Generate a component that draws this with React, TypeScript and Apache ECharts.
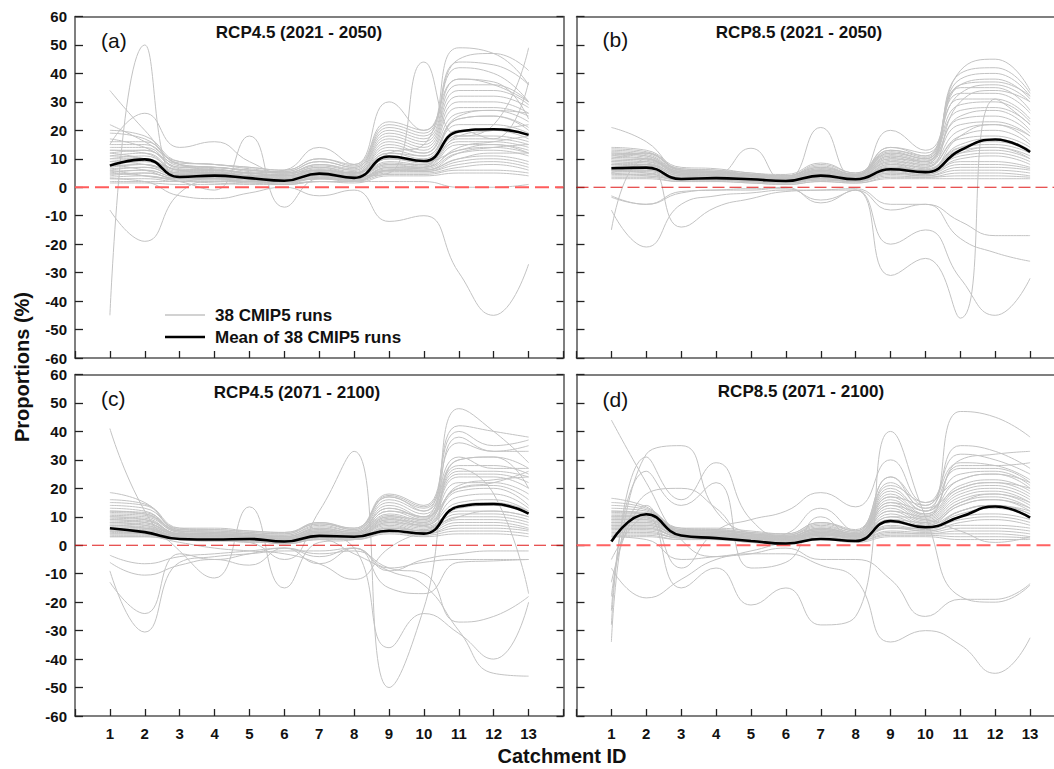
import React, { useEffect, useRef } from "react";
import * as echarts from "echarts";

const CATCHMENTS = [1, 2, 3, 4, 5, 6, 7, 8, 9, 10, 11, 12, 13];
const X_RANGE = [0, 14];
const Y_RANGE = [-60, 60];
const ZERO_LINE = [[0, 0], [14, 0]];

const TITLES = ["RCP4.5 (2021 - 2050)", "RCP8.5 (2021 - 2050)", "RCP4.5 (2071 - 2100)", "RCP8.5 (2071 - 2100)"];
const TAGS = ["(a)", "(b)", "(c)", "(d)"];
const RUN_NAME = "38 CMIP5 runs";
const MEAN_NAME = "Mean of 38 CMIP5 runs";

const MEAN_A = [7.6, 9.8, 3.6, 4.1, 3.2, 2.3, 4.8, 3.3, 10.8, 9.2, 19.6, 20.4, 18.4];
const MEAN_B = [6.7, 6.9, 2.9, 3.2, 2.8, 2.2, 4.1, 2.8, 6.3, 5.3, 13.0, 16.8, 12.4];
const MEAN_C = [6.0, 4.6, 2.2, 2.0, 2.2, 1.3, 3.3, 3.0, 5.1, 4.1, 13.6, 14.5, 11.1];
const MEAN_D = [1.3, 10.9, 3.4, 2.5, 1.5, 0.6, 2.2, 1.5, 8.5, 6.3, 10.0, 13.6, 9.7];

const RUNS_A = [
  [-45, 50, 2, 3, 2, 2, 3, 3, 6, 6, 10, 12, 12],
  [34, 20, 8, 6, 4, 3, 5, 4, 10, 9, 18, 20, 22],
  [-8, -19, -2, 2, 2, 1, 2, 2, 6, 6, 12, 14, 15],
  [15, 26, 14, 16, 9, 5, 6, 5, 12, 11, 25, 27, 26],
  [6, 4, 2, -1, 18, -7, 3, 2, 7, 7, 14, 16, 18],
  [12, 10, 6, 5, 5, 6, 14, 8, 30, 20, 38, 36, 30],
  [8, 6, 3, 3, 3, 3, 4, 4, 5, 44, 18, 22, 49],
  [3, 2, -3, -4, -2, 0, -3, -1, -12, -10, -30, -45, -27],
  [1.5, 1.5, 1, 1, 1.5, 1.5, 2, 2, 2, 2, 0, 0, 1],
  [2, 2, 2, 1.5, 1, 1, 2, 1.5, 4, 4, 5, 5, 4],
  [3, 3, 2, 2, 1.5, 1, 2, 2, 4.5, 4.5, 6, 6, 5],
  [3.5, 4, 2.5, 2.5, 2, 1.5, 3, 2.5, 5, 5, 7, 8, 6],
  [4, 5, 3, 3, 2, 2, 3, 2.5, 5.5, 5.5, 8, 9, 7],
  [4.5, 5, 3, 3, 2.5, 2, 3.5, 3, 6, 5.5, 9, 10, 8],
  [5, 6, 3.5, 3.5, 2.5, 2, 3.5, 3, 6.5, 6, 10, 11, 9],
  [5.5, 6, 3.5, 3.5, 3, 2.5, 4, 3, 7, 6.5, 12, 13, 11],
  [6, 7, 4, 4, 3, 2.5, 4, 3.5, 7.5, 7, 13, 14, 12],
  [6.5, 7, 4, 4, 3, 3, 4.5, 3.5, 8, 7, 15, 15, 13],
  [7, 8, 4.5, 4.5, 3.5, 3, 5, 4, 8.5, 7.5, 16, 16, 14],
  [7.5, 8, 4.5, 4.5, 3.5, 3, 5, 4, 9, 8, 17, 17, 15],
  [8, 9, 5, 5, 4, 3.5, 5.5, 4, 10, 8.5, 18, 18, 16],
  [9, 10, 5, 5, 4, 3.5, 5.5, 4.5, 11, 9, 20, 20, 17],
  [10, 10, 5.5, 5.5, 4, 4, 6, 4.5, 12, 10, 22, 22, 19],
  [10, 11, 6, 6, 4.5, 4, 6, 5, 13, 11, 24, 25, 21],
  [11, 12, 6, 6, 5, 4, 6.5, 5, 14, 12, 26, 27, 23],
  [12, 13, 6.5, 6, 5, 4.5, 7, 5, 15, 12, 28, 28, 25],
  [13, 13, 7, 6.5, 5, 4.5, 7, 5.5, 16, 13, 30, 30, 26],
  [14, 14, 7, 7, 5.5, 5, 7.5, 6, 17, 14, 32, 32, 28],
  [15, 15, 7.5, 7, 6, 5, 8, 6, 18, 15, 34, 34, 29],
  [16, 16, 8, 7, 6, 5, 8, 6.5, 19, 16, 36, 36, 30],
  [17, 14, 8, 7, 6, 5.5, 9, 7, 20, 17, 38, 37, 24],
  [19, 17, 8.5, 8, 6.5, 5.5, 9, 7, 21, 18, 42, 40, 30],
  [20, 18, 9, 8, 7, 6, 10, 7.5, 22, 19, 44, 43, 36],
  [22, 16, 9, 8, 7, 6, 10, 8, 23, 20, 45, 47, 41],
  [11, 10, 6, 5, 4, 4, 6, 5, 12, 15, 49, 47, 36],
  [9, 8, 5, 5, 4, 3, 5, 4, 8, 8, 20, 17, 37],
  [13, 12, 6, 6, 5, 4, 6, 5, 10, 9, 13, 15, 12],
  [5, 4, 3, 3, 2, 2, 3, 2.5, 6, 7, 24, 25, 20],
];

const RUNS_B = [
  [-15, 10, 5, 3, 2.5, 2, 3, 2, 7, 6, 18, 22, 18],
  [-8, -21, -6, -3, -2, -1, -1, -1, -8, -6, -12, -17, -17],
  [-3, -6, -2, -1, -1, 0, -5.5, -1, -20, -15, -32, -45, -32],
  [-3.5, -6, -1.5, -1, -0.5, -0.5, -4.5, -1, -31, -25, -46, 31, 22],
  [5, 8, -14, -7, -4, -1.5, -1, -0.5, -6, -6, -18, -23, -26],
  [5, 4, 3, 4, 13.7, 2, 3, 2, 6, 5, 12, 14, 10],
  [6, 5, 3, 3, 2, 2.5, 21, 3, 7, 6, 14, 16, 13],
  [21, 16, 6, 5, 4, 3, 6, 4, 20, 13, 33, 36, 30],
  [3, 3, 2, 2, 1.5, 1, 2, 1.5, 3, 3, 3, 3, 3],
  [3.5, 3.5, 2, 2, 1.5, 1, 2, 1.5, 3.5, 3.5, 4, 4, 3.5],
  [4, 4, 2.5, 2.5, 2, 1.5, 2.5, 2, 4, 3.5, 5, 5, 4],
  [4.5, 4.5, 2.5, 2.5, 2, 1.5, 2.5, 2, 4.5, 4, 6, 6, 5],
  [5, 5, 3, 3, 2, 1.5, 3, 2, 5, 4, 7, 7, 6],
  [5.5, 5.5, 3, 3, 2.5, 2, 3, 2.5, 5, 4.5, 8, 8, 6.5],
  [6, 6, 3, 3, 2.5, 2, 3.5, 2.5, 5.5, 4.5, 9, 9, 7],
  [6.5, 6.5, 3.5, 3.5, 2.5, 2, 3.5, 2.5, 6, 5, 10, 11, 8],
  [7, 7, 3.5, 3.5, 3, 2, 4, 3, 6.5, 5, 11, 12, 9],
  [7.5, 7.5, 4, 3.5, 3, 2.5, 4, 3, 7, 5.5, 12, 13, 10],
  [8, 8, 4, 4, 3, 2.5, 4.5, 3, 7.5, 6, 13, 14, 11],
  [8.5, 8, 4, 4, 3, 2.5, 4.5, 3, 8, 6, 14, 15, 12],
  [9, 8.5, 4.5, 4, 3.5, 3, 5, 3.5, 8.5, 6.5, 15, 17, 13],
  [9.5, 9, 4.5, 4.5, 3.5, 3, 5, 3.5, 9, 7, 17, 18, 14],
  [10, 9.5, 5, 4.5, 3.5, 3, 5.5, 3.5, 9.5, 7.5, 18, 20, 15],
  [10.5, 10, 5, 5, 4, 3, 5.5, 4, 10, 8, 20, 22, 16],
  [11, 10, 5.5, 5, 4, 3.5, 6, 4, 10.5, 8.5, 22, 23, 18],
  [11.5, 10.5, 5.5, 5, 4, 3.5, 6, 4, 11, 9, 24, 25, 19],
  [12, 11, 6, 5.5, 4.5, 3.5, 6.5, 4.5, 11.5, 9.5, 25, 27, 20],
  [12.5, 11.5, 6, 5.5, 4.5, 4, 7, 4.5, 12, 10, 27, 28, 22],
  [13, 12, 6.5, 6, 4.5, 4, 7.5, 4.5, 12.5, 10, 29, 30, 23],
  [13.5, 12.5, 6.5, 6, 5, 4, 8, 5, 13, 10.5, 31, 31, 24],
  [14, 13, 7, 6.5, 5, 4.5, 8.5, 5, 14, 11, 33, 33, 26],
  [10, 12, 6, 5.5, 4.5, 4, 7, 4.5, 13, 11, 35, 35, 27],
  [8, 9, 5, 5, 4, 3.5, 6, 4, 11, 9, 36, 38, 31],
  [12, 11, 5.5, 5, 4, 3.5, 6, 4, 12, 10, 38, 40, 32],
  [9, 10, 5, 4.5, 3.5, 3, 5.5, 3.5, 10, 9, 40, 42, 33],
  [11, 12, 6, 5.5, 4.5, 4, 6.5, 4.5, 14, 12, 41, 45, 34],
  [7, 8, 4.5, 4, 3, 2.5, 5, 3, 9, 8, 36, 37, 32],
  [6, 6, 3.5, 3.5, 3, 2.5, 4, 3, 8, 7, 30, 34, 30],
];

const RUNS_C = [
  [41, 12, -2, -11.5, 13.5, -15, 1, 2, 6, 5, 14, 15, 12],
  [-13, -24, -3, -5, -3, -1, -4, -1, -9, -5, -3, -2, -2],
  [-9, -30.5, -6, -4, -3, -2, -2, -1, -8, -6, -5, -5, -5],
  [-3.5, -6.5, -4, -3, -2, -1, -3, -2, -8, -10, -27, -25, -18],
  [-6, -10.5, -7, -5, -7, -1, -6.5, -1, -15, -17, -6, -5.5, -5],
  [5, 5, 3, 2, 2, 1, 3, -1, -36, -24, -31, -40, -20],
  [5, 4, 2, 2, 1, -5, 12, 33, -50, -22, 27, 18, -17],
  [4, 4, 2, 2, 1, 1, 2, -3, -9, -14, -30, -45, -46],
  [3, 3, 1, -1, -2, -3, -6.5, -12, -1, 5, 10, 12, 10],
  [3, 3, 2, 1.5, 1.5, 0.5, 2, 2, 4, 3, 4, 4, 3],
  [3.5, 3.5, 2, 1.5, 1.5, 0.5, 2, 2, 4.5, 3.5, 5, 5, 4],
  [4, 4, 2, 2, 1.5, 1, 2.5, 2, 5, 4, 6, 6, 5],
  [4.5, 4.5, 2.5, 2, 2, 1, 2.5, 2.5, 5.5, 4, 7, 7, 5.5],
  [5, 5, 2.5, 2, 2, 1, 3, 2.5, 6, 4.5, 8, 8, 6],
  [5.5, 5.5, 2.5, 2.5, 2, 1, 3, 2.5, 6.5, 5, 9, 9, 7],
  [6, 6, 3, 2.5, 2, 1.5, 3, 3, 7, 5, 10, 10, 8],
  [6.5, 6, 3, 2.5, 2.5, 1.5, 3.5, 3, 7.5, 5.5, 11, 11, 9],
  [7, 6.5, 3, 3, 2.5, 1.5, 3.5, 3, 8, 6, 12, 12, 10],
  [7.5, 7, 3.5, 3, 2.5, 2, 4, 3, 8.5, 6.5, 13, 14, 11],
  [8, 7.5, 3.5, 3, 3, 2, 4, 3.5, 9, 7, 15, 16, 12],
  [8.5, 8, 3.5, 3.5, 3, 2, 4.5, 3.5, 9.5, 7, 17, 18, 13],
  [9, 8.5, 4, 3.5, 3, 2.5, 4.5, 3.5, 10, 7.5, 19, 20, 14],
  [9.5, 9, 4, 3.5, 3, 2.5, 5, 4, 10.5, 8, 20, 21, 16],
  [10, 9.5, 4, 4, 3.5, 2.5, 5, 4, 11, 8.5, 22, 22, 18],
  [10.5, 10, 4.5, 4, 3.5, 3, 5.5, 4, 12, 9, 24, 24, 20],
  [11, 10.5, 4.5, 4, 3.5, 3, 5.5, 4.5, 13, 9.5, 25, 25, 22],
  [11.5, 11, 5, 4.5, 4, 3, 6, 4.5, 14, 10, 26, 26, 24],
  [12, 11.5, 5, 4.5, 4, 3.5, 6.5, 5, 15, 11, 28, 28, 25],
  [13, 12, 5, 5, 4, 3.5, 7, 5, 16, 12, 30, 31, 27],
  [14, 13, 5.5, 5, 4.5, 4, 7.5, 5.5, 17, 13, 31, 27, 27],
  [15, 14, 5.5, 5.5, 4.5, 4, 8, 5.5, 17.5, 13.5, 36, 33, 35],
  [16, 14.5, 6, 5.5, 5, 4.5, 7.5, 6, 18, 14, 40, 35, 37],
  [18.5, 15, 6, 6, 5, 4.5, 8, 6, 17, 12, 42, 40, 38],
  [10, 9, 4, 4, 3, 2.5, 5, 4, 12, 10, 48, 40, 29],
  [9, 8, 4, 3.5, 3, 2, 4.5, 3.5, 10, 9, 38, 33, 33],
  [8, 7, 3.5, 3, 2.5, 2, 4, 3, 9, 8, 30, 31, 20],
  [7, 6, 3, 3, 2.5, 1.5, 3.5, 3, 8, 7, 21, 23, 24],
  [12, 11, 5, 4.5, 4, 3, 6, 4.5, 13, 10, 20, 22, 26],
];

const RUNS_D = [
  [44, 22, 2, -4, -2, 1, 2, 2, 6, 6, 12, 14, 11],
  [-34, 32, 35, 12, 4, 2, 4, 3, 9, 8, 15, 18, 15],
  [-28, 31, 16, 29, 9, 3, 4, 3, 8, 7, 14, 16, 13],
  [-23, 26, 14, 22, -8, -6, 10, 3, 6, 6, 12, 14, 12],
  [-18, 18, 20, 13, 2, 4, 13, 5, 24, 13, 20, 22, 20],
  [-13, 14, -8, 5, 9, 12, 18.5, 13.5, 30, 15, 23, 25, 22],
  [-8, -18.5, -12, -5, -3, -1, -5, -5, -12, -25, -19, -19, -13.5],
  [-5, 10, -15, -8, -21, -15, -28, -25, 40, 10, -18, -20, -14],
  [3, 2, -5, -4, -3, -3, -7, -12, -34, -30, -35, -45, -32.5],
  [3, 3, 2, 2, 1, 0.5, 2, 1, 3, 3, 2, 2, 2],
  [3.5, 3.5, 2, 2, 1, 0.5, 2, 1.5, 3.5, 3.5, 3, 3, 2.5],
  [4, 4, 2.5, 2, 1.5, 1, 2.5, 1.5, 4, 4, 4, 4, 3],
  [4.5, 4.5, 2.5, 2.5, 1.5, 1, 2.5, 2, 4.5, 4, 5, 5, 4],
  [5, 5, 2.5, 2.5, 2, 1, 3, 2, 5, 4.5, 6, 6, 5],
  [5.5, 5.5, 3, 2.5, 2, 1.5, 3, 2, 6, 5, 7, 7, 6],
  [6, 6, 3, 3, 2, 1.5, 3.5, 2.5, 6.5, 5, 8, 9, 7],
  [6.5, 6.5, 3, 3, 2.5, 1.5, 3.5, 2.5, 7, 5.5, 9, 10, 8],
  [7, 7, 3.5, 3, 2.5, 2, 4, 2.5, 8, 6, 10, 11, 9],
  [7.5, 7.5, 3.5, 3.5, 2.5, 2, 4, 3, 9, 6.5, 11, 13, 10],
  [8, 8, 3.5, 3.5, 3, 2, 4.5, 3, 10, 7, 12, 14, 11],
  [8.5, 8.5, 4, 3.5, 3, 2.5, 4.5, 3, 11, 7.5, 14, 16, 12],
  [9, 9, 4, 4, 3, 2.5, 5, 3.5, 12, 8, 15, 17, 13],
  [9.5, 9.5, 4, 4, 3, 2.5, 5, 3.5, 13, 8.5, 16, 18, 14],
  [10, 10, 4.5, 4, 3.5, 3, 5.5, 3.5, 14, 9, 17, 19, 15],
  [10.5, 10.5, 4.5, 4.5, 3.5, 3, 5.5, 4, 15, 9.5, 18, 20, 16],
  [11, 11, 5, 4.5, 3.5, 3, 6, 4, 16, 10, 19, 21, 17],
  [11.5, 11, 5, 5, 4, 3, 6, 4, 17, 10.5, 20, 22, 18],
  [12, 11.5, 5, 5, 4, 3.5, 6.5, 4.5, 18, 11, 21, 23, 19],
  [13, 12, 5.5, 5, 4, 3.5, 7, 4.5, 19, 12, 23, 25, 20],
  [14, 12.5, 5.5, 5.5, 4.5, 3.5, 7.5, 5, 20, 12, 25, 26, 21],
  [15, 13, 6, 5.5, 4.5, 4, 8, 5, 22, 13, 27, 27, 22],
  [16.5, 13.5, 6, 6, 5, 4, 8, 5.5, 24, 14, 29, 28, 23],
  [12, 11, 5, 5, 4, 3, 6, 4, 21, 15, 32, 30, 25],
  [10, 10, 4.5, 4.5, 3.5, 3, 5.5, 4, 17, 14, 35, 33, 27],
  [9, 9, 4, 4, 3, 2.5, 5, 3.5, 15, 12, 47, 45, 38],
  [8, 8, 4, 3.5, 3, 2.5, 4.5, 3.5, 14, 11, 30, 32, 33],
  [7, 7, 3.5, 3.5, 2.5, 2, 4, 3, 12, 10, 28, 28, 29],
  [6, 6, 3, 3, 2.5, 2, 3.5, 3, 10, 9, 5, 1, 3],
];

const RUNS = [RUNS_A, RUNS_B, RUNS_C, RUNS_D];
const MEANS = [MEAN_A, MEAN_B, MEAN_C, MEAN_D];

const FONT = "'Liberation Sans', Arial, Helvetica, sans-serif";
const CHART_W = 1072;
const GRID_LEFT = [75, 576.5, 75, 576.5];
const GRID_TOP = [16.5, 16.5, 374.5, 374.5];
const GRID_W = 488.5;
const GRID_H = 341.5;
const AXIS_COLOR = "#555";
const RUN_COLOR = "#c3c3c3";
const ZERO_STYLE = [
  { color: "#ff5c5c", width: 2, type: [14, 6] },
  { color: "#e01b1b", width: 1.2, type: [12, 5] },
  { color: "#e01b1b", width: 1.2, type: [12, 5] },
  { color: "#ff6262", width: 1.8, type: [14, 6] },
];
const TAG_POS = [[101, 40], [602.5, 39], [101, 398], [602.5, 399]];
const TITLE_POS = [[299, 32], [799, 32], [297, 392], [801, 391.5]];

function toPoints(values: number[]) {
  return values.map((v, i) => [CATCHMENTS[i], v]);
}

export default function App() {
  const ref = useRef<HTMLDivElement>(null);

  useEffect(() => {
    const chart = echarts.init(ref.current!, null, { renderer: "svg" });
    const grids: any[] = [];
    const xAxes: any[] = [];
    const yAxes: any[] = [];
    const series: any[] = [];
    const graphics: any[] = [];

    for (let i = 0; i < 4; i++) {
      grids.push({ left: GRID_LEFT[i], top: GRID_TOP[i], width: GRID_W, height: GRID_H, containLabel: false });
    }
    for (let i = 0; i < 4; i++) {
      xAxes.push({
        gridIndex: i,
        type: "value",
        position: "bottom",
        min: X_RANGE[0],
        max: X_RANGE[1],
        interval: 1,
        axisLine: { show: true, onZero: false, lineStyle: { color: AXIS_COLOR, width: 1.5 } },
        axisTick: { show: true, inside: true, length: 7, lineStyle: { color: "#222", width: 1.3 } },
        axisLabel: {
          show: i >= 2,
          margin: 10,
          fontSize: 15,
          fontWeight: "bold",
          color: "#111",
          fontFamily: FONT,
          formatter: (v: number) => (v >= 1 && v <= 13 ? String(v) : ""),
        },
        splitLine: { show: false },
      });
    }
    for (let i = 0; i < 4; i++) {
      xAxes.push({
        gridIndex: i,
        type: "value",
        position: "top",
        min: X_RANGE[0],
        max: X_RANGE[1],
        axisLine: { show: true, onZero: false, lineStyle: { color: AXIS_COLOR, width: 1.5 } },
        axisTick: { show: false },
        axisLabel: { show: false },
        splitLine: { show: false },
      });
    }
    for (let i = 0; i < 4; i++) {
      yAxes.push({
        gridIndex: i,
        type: "value",
        position: "left",
        min: Y_RANGE[0],
        max: Y_RANGE[1],
        interval: 10,
        axisLine: { show: true, onZero: false, lineStyle: { color: AXIS_COLOR, width: 1.5 } },
        axisTick: { show: true, inside: true, length: 8, lineStyle: { color: "#222", width: 1.3 } },
        axisLabel: {
          show: i % 2 === 0,
          margin: 8,
          fontSize: 15,
          fontWeight: "bold",
          color: "#111",
          fontFamily: FONT,
        },
        splitLine: { show: false },
      });
    }
    for (let i = 0; i < 4; i++) {
      yAxes.push({
        gridIndex: i,
        type: "value",
        position: "right",
        min: Y_RANGE[0],
        max: Y_RANGE[1],
        interval: 10,
        axisLine: { show: true, onZero: false, lineStyle: { color: AXIS_COLOR, width: 1.5 } },
        axisTick: { show: true, inside: true, length: 7, lineStyle: { color: "#222", width: 1.3 } },
        axisLabel: { show: false },
        splitLine: { show: false },
      });
    }

    for (let i = 0; i < 4; i++) {
      RUNS[i].forEach((run) => {
        series.push({
          type: "line",
          name: RUN_NAME,
          xAxisIndex: i,
          yAxisIndex: i,
          data: toPoints(run),
          smooth: 0.5,
          symbol: "none",
          silent: true,
          z: 2,
          lineStyle: { color: RUN_COLOR, width: 1 },
        });
      });
      series.push({
        type: "line",
        name: "zero",
        xAxisIndex: i,
        yAxisIndex: i,
        data: ZERO_LINE,
        symbol: "none",
        silent: true,
        z: 3,
        lineStyle: ZERO_STYLE[i],
      });
      series.push({
        type: "line",
        name: MEAN_NAME,
        xAxisIndex: i,
        yAxisIndex: i,
        data: toPoints(MEANS[i]),
        smooth: 0.5,
        symbol: "none",
        silent: true,
        z: 4,
        lineStyle: { color: "#000", width: 2.6 },
      });

      graphics.push({
        type: "text",
        x: TAG_POS[i][0],
        y: TAG_POS[i][1],
        style: { text: TAGS[i], fill: "#111", font: `21px ${FONT}`, textAlign: "left", textVerticalAlign: "middle" },
      });
      graphics.push({
        type: "text",
        x: TITLE_POS[i][0],
        y: TITLE_POS[i][1],
        style: { text: TITLES[i], fill: "#111", font: `bold 17px ${FONT}`, textAlign: "center", textVerticalAlign: "middle" },
      });
    }

    // legend (panel a)
    graphics.push({
      type: "line",
      shape: { x1: 165, y1: 315, x2: 205, y2: 315 },
      style: { stroke: RUN_COLOR, lineWidth: 1.5 },
      z: 10,
    });
    graphics.push({
      type: "line",
      shape: { x1: 165, y1: 337, x2: 205, y2: 337 },
      style: { stroke: "#000", lineWidth: 2.6 },
      z: 10,
    });
    graphics.push({
      type: "text",
      x: 215,
      y: 315,
      z: 10,
      style: { text: RUN_NAME, fill: "#111", font: `bold 17px ${FONT}`, textAlign: "left", textVerticalAlign: "middle" },
    });
    graphics.push({
      type: "text",
      x: 215,
      y: 337,
      z: 10,
      style: { text: MEAN_NAME, fill: "#111", font: `bold 17px ${FONT}`, textAlign: "left", textVerticalAlign: "middle" },
    });

    graphics.push({
      type: "text",
      x: 22,
      y: 367,
      rotation: Math.PI / 2,
      style: { text: "Proportions (%)", fill: "#111", font: `bold 20px ${FONT}`, textAlign: "center", textVerticalAlign: "middle" },
    });
    graphics.push({
      type: "text",
      x: 562,
      y: 756,
      style: { text: "Catchment ID", fill: "#111", font: `bold 20px ${FONT}`, textAlign: "center", textVerticalAlign: "middle" },
    });

    chart.setOption({
      animation: false,
      backgroundColor: "#fff",
      grid: grids,
      xAxis: xAxes,
      yAxis: yAxes,
      graphic: graphics,
      series,
    });

    return () => chart.dispose();
  }, []);

  return (
    <div style={{ position: "fixed", left: 0, top: 0, width: 1054, height: 769, overflow: "hidden", background: "#fff" }}>
      <div ref={ref} style={{ width: CHART_W, height: 769 }} />
    </div>
  );
}
